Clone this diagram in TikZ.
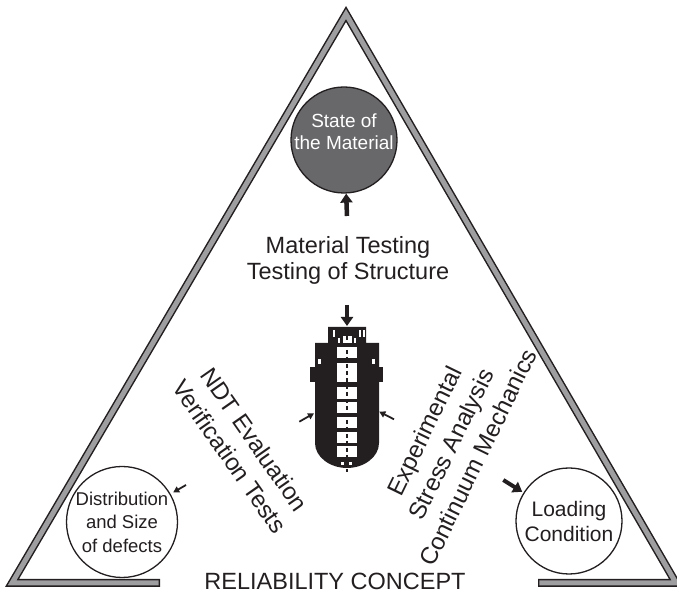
\documentclass[tikz,border=0pt]{standalone}
\usepackage{fontspec}
\setmainfont{Liberation Sans}
\usetikzlibrary{positioning,arrows.meta}
\definecolor{ink}{HTML}{231F20}
\definecolor{rail}{HTML}{9E9EA0}
\definecolor{slate}{HTML}{68686B}
\tikzset{
  frame/.style={draw=ink, line width=8pt, miter limit=10},
  framefill/.style={draw=rail, line width=5pt, miter limit=10, shorten <=1.4pt, shorten >=1.4pt},
  circ/.style={circle, draw=ink, line width=1.3pt, fill=white, inner sep=-8pt,
    align=center, text=ink},
  arr/.style={-{Triangle[length=9pt,width=12pt]}, line width=4.5pt, draw=ink},
  sarr/.style={-{Triangle[length=6pt,width=6.5pt]}, line width=1.8pt, draw=ink},
  lab/.style={font=\fontsize{23.5pt}{26pt}\selectfont, text=ink, align=center, inner sep=0pt},
  rlab/.style={font=\fontsize{24pt}{30pt}\selectfont, text=ink, align=center, inner sep=0pt},
  win/.style={fill=white},
}

\begin{document}
\begin{tikzpicture}[x=1pt, y=1pt]
  \useasboundingbox (0,0) rectangle (677,594);
  % outer frame, open at the bottom
  \coordinate (bl) at (12,11);
  \coordinate (top) at (346,580);
  \coordinate (br) at (676,11);
  \draw[frame] (160,11) -- (bl) -- (top) -- (br) -- (538,11);
  \draw[framefill] (160,11) -- (bl) -- (top) -- (br) -- (538,11);

  \node[circ, fill=slate, text=white, minimum size=106pt, text depth=16pt,
    font=\fontsize{19pt}{22pt}\selectfont] (state) at (344,454) {State of\\the Material};
  \node[circ, minimum size=111pt, font=\fontsize{18.5pt}{23.5pt}\selectfont]
    (defects) at (122,72) {Distribution\\and Size\\of defects};
  \node[circ, minimum size=106pt, font=\fontsize{21pt}{25pt}\selectfont]
    (loading) at (569,73) {Loading\\Condition};

  \node[lab] (mt) at (348,334) {Material Testing\\Testing of Structure};
  \node[lab] (rc) at (335,13) {RELIABILITY CONCEPT};
  \node[rlab, rotate=-55] (ndt) at (242,146) {NDT Evaluation\\Verification Tests};
  \node[rlab, rotate=64] (esa) at (451,150) {Experimental\\Stress Analysis\\Continuum Mechanics};

  % pressure vessel
  \begin{scope}[shift={(347,0)}]
    \fill[ink] (-19,267) -- (19,267) -- (19,251) -- (32,251) -- (32,151)
      .. controls (32,137) and (17,126) .. (0,126)
      .. controls (-17,126) and (-32,137) .. (-32,151) -- (-32,251) -- (-19,251) -- cycle;
    \fill[ink] (-37,212) rectangle (36,227);
    \foreach \lo/\hi in {235.7/247.3, 212/231, 195/207, 181/192, 166/177, 151/162, 137/148}
      \fill[win] (-10,\lo) rectangle (10,\hi);
    \fill[win] (-4.3,250.7) rectangle (4.7,258);
    \foreach \sx in {-13.7,12.3,15.7}
      \fill[win] (\sx,257) rectangle (\sx+1.8,264);
    \foreach \sx in {-9,7}
      \fill[win] (\sx,251) rectangle (\sx+1.6,256);
    \fill[win] (-29,230) rectangle (-26.5,235);
    \fill[win] (25,230) rectangle (27.5,235);
    \fill[win] (-6,129) rectangle (-3,132);
    \fill[win] (2,129) rectangle (5,132);
    \draw[ink, line width=1.4pt, dash pattern=on 4pt off 3pt] (0,258) -- (0,122);
  \end{scope}

  \coordinate (upt) at (347,378);
  \coordinate (dnt) at (347,289);
  \coordinate (vtop) at (347,268);
  \coordinate (lt0) at (299.3,172.3);
  \coordinate (lt1) at (314,180.7);
  \coordinate (rt0) at (394,174.7);
  \coordinate (rt1) at (379.3,182.3);
  \coordinate (dt0) at (186,109);
  \coordinate (ld0) at (503.3,114);

  \draw[arr] (upt) -- (state);
  \draw[arr] (dnt) -- (vtop);
  \draw[sarr] (lt0) -- (lt1);
  \draw[sarr] (rt0) -- (rt1);
  \draw[sarr, shorten >=3pt] (dt0) -- (defects);
  \draw[arr, line width=4pt, shorten >=1.5pt] (ld0) -- (loading);
\end{tikzpicture}
\end{document}
